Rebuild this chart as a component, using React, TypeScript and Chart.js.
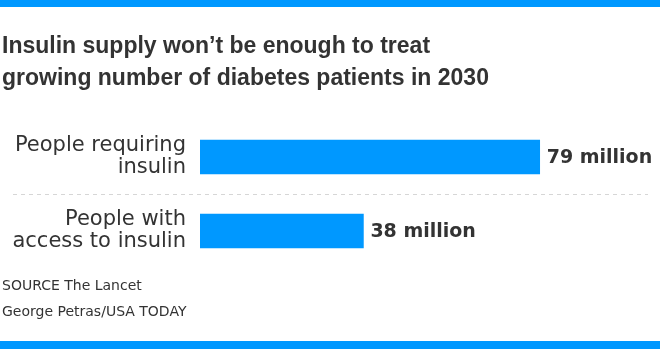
import React, { useEffect, useRef } from "react";
import { Chart, registerables } from "chart.js";

Chart.register(...registerables);

const titleLines = [
  "Insulin supply won\u2019t be enough to treat",
  "growing number of diabetes patients in 2030",
];
const categories = [
  ["People requiring", "insulin"],
  ["People with", "access to insulin"],
];
const values = [79, 38];
const valueUnit = "million";
const sourceLines = ["SOURCE The Lancet", "George Petras/USA TODAY"];

const BLUE = "#0098ff";
const TEXT = "#333333";

const decorPlugin = {
  id: "decor",
  beforeDraw(chart: any) {
    const { ctx, width, height } = chart;
    ctx.save();
    ctx.fillStyle = "#ffffff";
    ctx.fillRect(0, 0, width, height);
    ctx.fillStyle = BLUE;
    ctx.fillRect(0, 0, width, 7);
    ctx.fillRect(0, height - 8, width, 8);
    ctx.restore();
  },
  afterDatasetsDraw(chart: any) {
    const { ctx } = chart;
    const y = chart.scales.y;
    const mid = (y.getPixelForValue(0) + y.getPixelForValue(1)) / 2;
    ctx.save();
    ctx.strokeStyle = "#d6d6d6";
    ctx.lineWidth = 1;
    ctx.setLineDash([4, 4]);
    ctx.beginPath();
    ctx.moveTo(13, Math.round(mid) + 0.5);
    ctx.lineTo(chart.width - 12, Math.round(mid) + 0.5);
    ctx.stroke();
    ctx.setLineDash([]);
    const meta = chart.getDatasetMeta(0);
    ctx.fillStyle = TEXT;
    ctx.font = "bold 19px 'DejaVu Sans', sans-serif";
    ctx.textBaseline = "middle";
    ctx.textAlign = "left";
    meta.data.forEach((bar: any, i: number) => {
      ctx.fillText(`${values[i]} ${valueUnit}`, bar.x + 7, bar.y + 1);
    });
    ctx.restore();
  },
};

export default function App() {
  const ref = useRef<HTMLCanvasElement>(null);
  useEffect(() => {
    const chart = new Chart(ref.current as HTMLCanvasElement, {
      type: "bar",
      data: {
        labels: categories,
        datasets: [
          {
            data: values,
            backgroundColor: BLUE,
            borderWidth: 0,
            barThickness: 34,
          },
        ],
      },
      options: {
        indexAxis: "y",
        animation: false,
        responsive: false,
        maintainAspectRatio: false,
        layout: { padding: { left: 2, right: 30, top: 0, bottom: 0 } },
        plugins: {
          legend: { display: false },
          tooltip: { enabled: false },
          title: {
            display: true,
            text: titleLines,
            align: "start",
            color: TEXT,
            font: { family: "'Liberation Sans Narrow', sans-serif", size: 23, weight: "bold", lineHeight: 32 / 23 },
            padding: { top: 31, bottom: 25 },
          },
          subtitle: {
            display: true,
            position: "bottom",
            text: sourceLines,
            align: "start",
            color: TEXT,
            font: { family: "'DejaVu Sans', sans-serif", size: 14, lineHeight: 26 / 14 },
            padding: { top: 5, bottom: 24 },
          },
        },
        scales: {
          x: { display: false, min: 0, max: 100 },
          y: {
            afterFit: (s: any) => {
              s.width = 198;
            },
            grid: { display: false },
            border: { display: false },
            ticks: {
              color: TEXT,
              crossAlign: "near",
              padding: 6,
              font: { family: "'DejaVu Sans', sans-serif", size: 21, weight: "normal", lineHeight: 1.05 },
            },
          },
        },
      },
      plugins: [decorPlugin],
    });
    return () => chart.destroy();
  }, []);
  return (
    <div style={{ position: "fixed", left: 0, top: 0, width: 660, height: 349 }}>
      <canvas ref={ref} width={660} height={349} style={{ width: 660, height: 349 }} />
    </div>
  );
}
